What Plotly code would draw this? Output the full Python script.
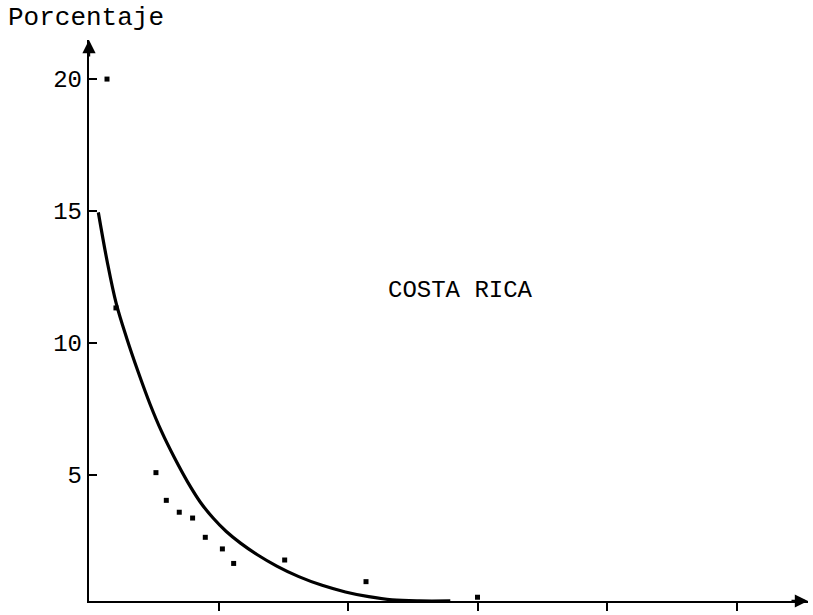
import plotly.graph_objects as go

# Observed percentages (x in axis-tick units; axis is unlabelled)
obs_x = [0.139, 0.208, 0.517, 0.597, 0.697, 0.80, 0.898, 1.03, 1.117, 1.511, 2.139, 3.0]
obs_y = [20.0, 11.33, 5.09, 4.04, 3.59, 3.37, 2.64, 2.20, 1.65, 1.78, 0.96, 0.37]

# Fitted curve, sampled along its length
fit_x = [0.072, 0.14, 0.21, 0.29, 0.38, 0.47, 0.56, 0.66, 0.76, 0.86, 0.96,
         1.06, 1.17, 1.30, 1.45, 1.62, 1.80, 1.98, 2.16, 2.34, 2.55, 2.79]
fit_y = [14.95, 13.1, 11.5, 10.2, 8.9, 7.7, 6.65, 5.65, 4.75, 3.97, 3.36,
         2.86, 2.42, 1.98, 1.55, 1.15, 0.82, 0.57, 0.39, 0.27, 0.23, 0.23]

y_ticks = [5, 10, 15, 20]
x_ticks = [1, 2, 3, 4, 5]

X_MAX = 5.552
Y_MIN, Y_MAX = 0.227, 21.48

FONT = "Liberation Mono, DejaVu Sans Mono, monospace"

fig = go.Figure()
fig.add_trace(go.Scatter(
    x=fit_x, y=fit_y, mode="lines",
    line=dict(color="black", width=3.2, shape="spline", smoothing=1.0),
    showlegend=False, cliponaxis=True,
))
fig.add_trace(go.Scatter(
    x=obs_x, y=obs_y, mode="markers",
    marker=dict(symbol="square", size=5, color="black"),
    showlegend=False, cliponaxis=False,
))

# Arrowheads on both axes
fig.add_annotation(x=X_MAX, y=Y_MIN, ax=-18, ay=0, xref="x", yref="y",
                   showarrow=True, arrowhead=2, arrowsize=1.1, arrowwidth=2.4,
                   arrowcolor="black", text="")
fig.add_annotation(x=0, y=Y_MAX, ax=0, ay=18, xref="x", yref="y",
                   showarrow=True, arrowhead=2, arrowsize=1.1, arrowwidth=2.4,
                   arrowcolor="black", text="")

fig.add_annotation(x=-0.1155, y=1.04, xref="paper", yref="paper",
                   xanchor="left", yanchor="middle", showarrow=False,
                   text="Porcentaje", font=dict(family=FONT, size=26, color="black"))
fig.add_annotation(x=2.87, y=12.0, xref="x", yref="y",
                   xanchor="center", yanchor="middle", showarrow=False,
                   text="COSTA RICA", font=dict(family=FONT, size=24, color="black"))

fig.update_xaxes(range=[0, X_MAX], showline=True, linecolor="black", linewidth=2.4,
                 tickvals=x_ticks, ticks="outside", ticklen=8, tickwidth=2,
                 tickcolor="black", showticklabels=False, showgrid=False,
                 zeroline=False)
fig.update_yaxes(range=[Y_MIN, Y_MAX], showline=True, linecolor="black", linewidth=2.4,
                 tickvals=y_ticks, ticktext=[str(v) for v in y_ticks],
                 ticks="inside", ticklen=8, tickwidth=2, tickcolor="black",
                 ticklabelstandoff=0,
                 tickfont=dict(family=FONT, size=24, color="black"),
                 showgrid=False, zeroline=False)

fig.update_layout(
    width=813, height=615,
    margin=dict(l=89, r=5, t=40, b=14),
    plot_bgcolor="white", paper_bgcolor="white",
)

fig.write_html("out.html")
